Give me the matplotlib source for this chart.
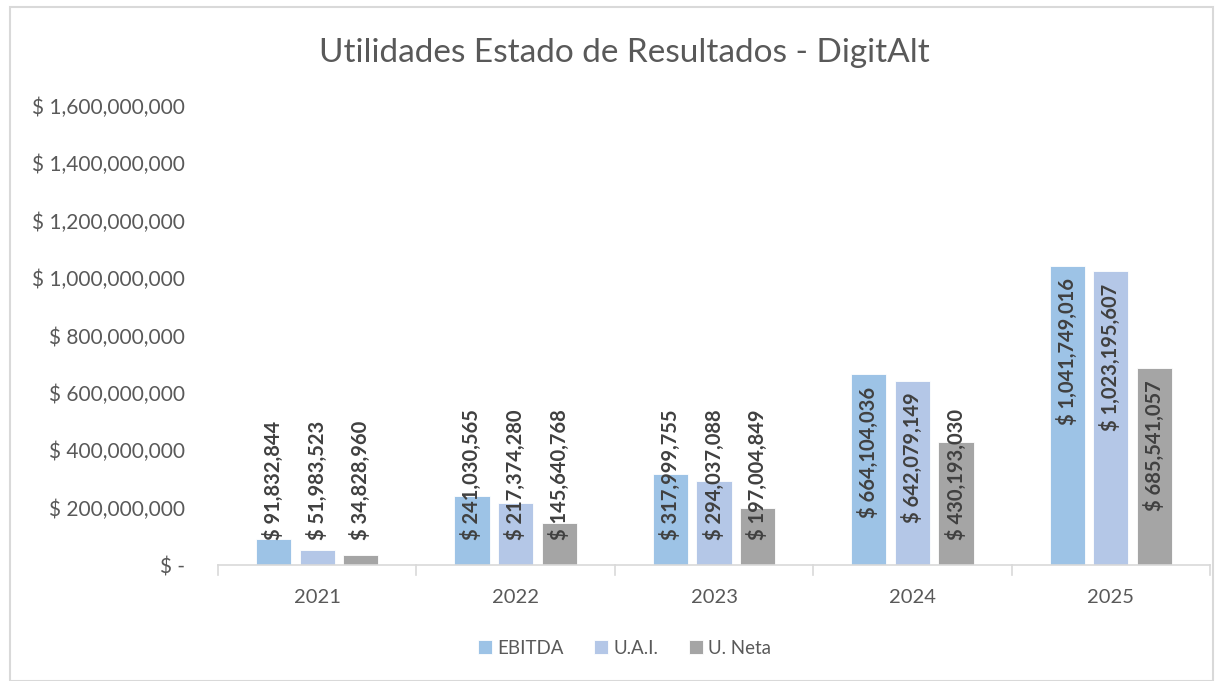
import matplotlib.pyplot as plt
import numpy as np
from matplotlib.patches import Rectangle

# Datos
years = ['2021', '2022', '2023', '2024', '2025']
ebitda = [91832844, 241030565, 317999755, 664104036, 1041749016]
uai = [51983523, 217374280, 294037088, 642079149, 1023195607]
u_neta = [34828960, 145640768, 197004849, 430193030, 685541057]
series_names = ['EBITDA', 'U.A.I.', 'U. Neta']
y_ticks = [0, 200000000, 400000000, 600000000, 800000000,
           1000000000, 1200000000, 1400000000, 1600000000]

colors = ['#9DC3E6', '#B4C7E7', '#A5A5A5']
text_gray = '#595959'
label_gray = '#404040'

plt.rcParams['font.family'] = ['Lato', 'DejaVu Sans']

fig = plt.figure(figsize=(12.2, 6.81), dpi=100)
ax = fig.add_axes([218 / 1220, 1 - 565 / 681, (1210 - 218) / 1220, (565 - 106) / 681])

# borde del gráfico
fig.patches.append(Rectangle((10 / 1220, 0), 1203 / 1220, 1 - 7 / 681,
                             transform=fig.transFigure, fill=False,
                             edgecolor='#D9D9D9', linewidth=1.5))

x = np.arange(len(years))
width = 0.177
offsets = [-0.22, 0.0, 0.22]

bars_all = []
for data, off, col, name in zip([ebitda, uai, u_neta], offsets, colors, series_names):
    b = ax.bar(x + off, data, width, color=col, label=name,
               edgecolor='white', linewidth=0.6, zorder=2)
    bars_all.append((b, data))

ax.set_xlim(-0.5, len(years) - 0.5)
ax.set_ylim(0, 1600000000)


def fmt_money(v):
    return '$ -' if v == 0 else '$ {:,}'.format(int(v))


ax.set_yticks(y_ticks)
ax.set_yticklabels([fmt_money(v) for v in y_ticks])
ax.set_xticks(x)
ax.set_xticklabels(years)
ax.tick_params(axis='y', length=0, labelsize=15, labelcolor=text_gray, pad=24)
ax.tick_params(axis='x', length=0, labelsize=14.5, labelcolor=text_gray, pad=17)

# marcas entre categorías
for b in np.arange(-0.5, len(years) + 0.5, 1):
    ax.plot([b, b], [0, -0.022], transform=ax.get_xaxis_transform(),
            color='#D9D9D9', linewidth=1.2, clip_on=False)

for s in ['top', 'right', 'left']:
    ax.spines[s].set_visible(False)
ax.spines['bottom'].set_color('#D9D9D9')
ax.spines['bottom'].set_linewidth(1.2)

# etiquetas de datos (extremo interno, sin bajar del límite inferior)
px = 1600000000 / 459
pad_top = 12 * px
min_bottom = 25 * px
texts = []
for b, data in bars_all:
    for rect, v in zip(b, data):
        t = ax.text(rect.get_x() + rect.get_width() / 2, v - pad_top, fmt_money(v),
                    rotation=90, ha='center', va='top', fontsize=14.5,
                    fontweight='bold', color=label_gray, zorder=3)
        texts.append((t, v))

fig.canvas.draw()
r = fig.canvas.get_renderer()
inv = ax.transData.inverted()
for t, v in texts:
    bb = t.get_window_extent(r)
    y_bottom = inv.transform((0, bb.y0))[1]
    if y_bottom < min_bottom:
        t.set_y(min_bottom)
        t.set_va('bottom')

fig.text(0.512, 1 - 53 / 681, 'Utilidades Estado de Resultados - DigitAlt',
         ha='center', va='center', fontsize=24, color=text_gray)

ax.legend(loc='center', bbox_to_anchor=(0.512, 1 - 648 / 681), bbox_transform=fig.transFigure,
          ncol=3, frameon=False, fontsize=13.5, labelcolor=text_gray,
          handlelength=0.75, handleheight=0.75, handletextpad=0.3, columnspacing=1.6)

fig.savefig('out.png', dpi=100)
